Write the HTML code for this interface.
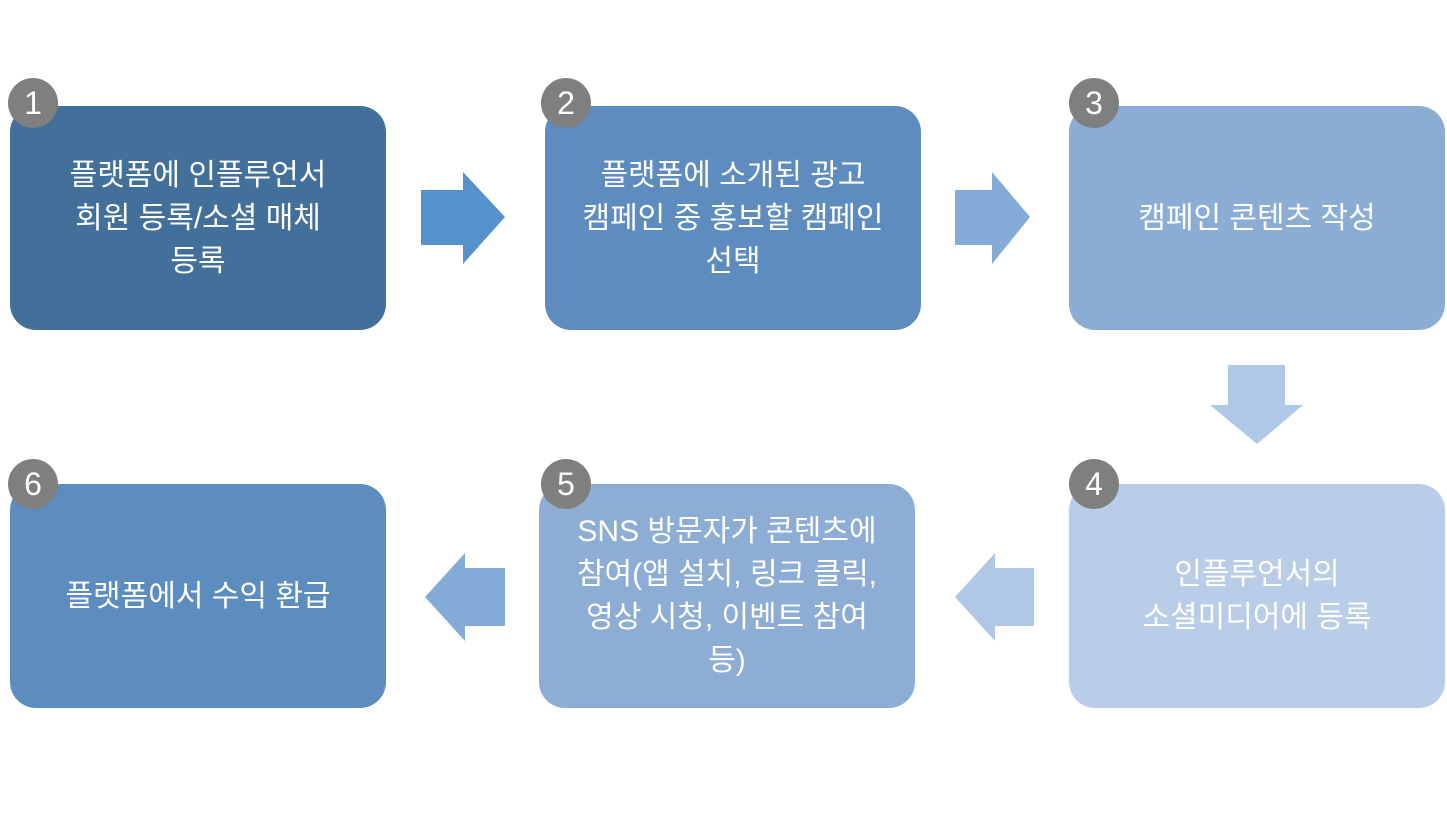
<!DOCTYPE html>
<html><head><meta charset="utf-8"><style>
body{margin:0;width:1447px;height:815px;background:#fff;position:relative;overflow:hidden;font-family:"Liberation Sans","Noto Sans CJK KR",sans-serif}
.b{position:absolute;width:376px;height:224px;border-radius:26px;color:#fff;display:flex;align-items:center;justify-content:center;text-align:center;font-size:30px;line-height:43px;box-sizing:border-box;padding:0 14px}
.c{position:absolute;width:50px;height:50px;border-radius:50%;background:#7f7f7f;color:#fff;font-size:32px;line-height:50px;text-align:center}
svg{position:absolute;left:0;top:0}
</style></head><body>
<div class="b" style="left:10px;top:106px;background:#436f9b">플랫폼에 인플루언서<br>회원 등록/소셜 매체<br>등록</div>
<div class="b" style="left:545px;top:106px;background:#5e8cbf">플랫폼에 소개된 광고<br>캠페인 중 홍보할 캠페인<br>선택</div>
<div class="b" style="left:1069px;top:106px;background:#8badd4">캠페인 콘텐츠 작성</div>
<div class="b" style="left:1069px;top:484px;background:#b9cde8">인플루언서의<br>소셜미디어에 등록</div>
<div class="b" style="left:539px;top:484px;background:#8eadd5">SNS 방문자가 콘텐츠에<br>참여(앱 설치, 링크 클릭,<br>영상 시청, 이벤트 참여<br>등)</div>
<div class="b" style="left:10px;top:484px;background:#5d8cbf">플랫폼에서 수익 환급</div>
<div class="c" style="left:8px;top:78px">1</div>
<div class="c" style="left:541px;top:78px">2</div>
<div class="c" style="left:1069px;top:78px">3</div>
<div class="c" style="left:1069px;top:459px">4</div>
<div class="c" style="left:541px;top:459px">5</div>
<div class="c" style="left:8px;top:459px">6</div>
<svg width="1447" height="815">
<polygon points="421,190 463,190 463,172 505,217 463,264 463,245 421,245" fill="#5591cb"/>
<polygon points="955,190 992,190 992,172 1030,217 992,264 992,245 955,245" fill="#84aad8"/>
<polygon points="1228,365 1285,365 1285,405 1303,405 1257,444 1210,405 1228,405" fill="#afc8e6"/>
<polygon points="1034,568 995,568 995,553 955,597 995,641 995,626 1034,626" fill="#b0c8e5"/>
<polygon points="505,568 465,568 465,553 425,597 465,641 465,626 505,626" fill="#84aad8"/>
</svg>
</body></html>
